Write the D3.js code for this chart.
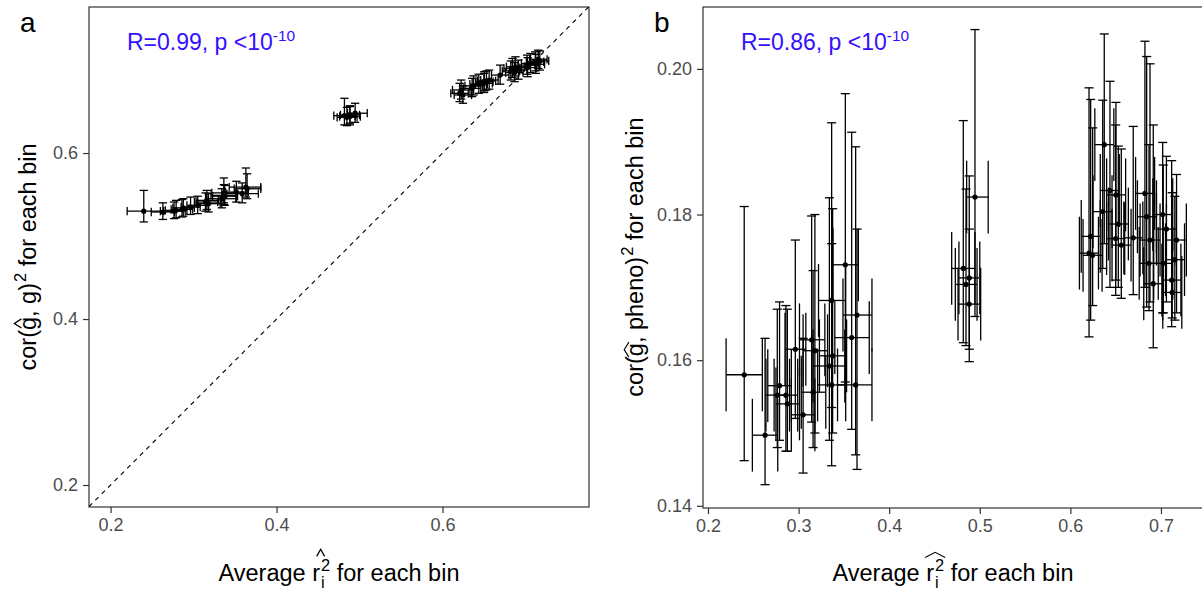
<!DOCTYPE html>
<html><head><meta charset="utf-8">
<script src="https://cdn.jsdelivr.net/npm/d3@7"></script>
<style>
html,body{margin:0;padding:0;overflow:hidden;background:#fff}
svg{display:block;font-family:"Liberation Sans",Arial,Helvetica,sans-serif}
svg text{white-space:pre}
</style>
</head><body>
<svg id="chart" width="1202" height="592"></svg>
<script>
// ---- data: one entry per bin ----
const binX   = [0.240,0.263,0.2765,0.279,0.286,0.2876,0.2964,0.305,0.3144,0.318,0.316,0.334,0.3365,0.3376,0.3365,0.3516,0.3645,0.3586,0.363,
                0.4947,0.4818,0.4884,0.4848,0.4884,
                0.6206,0.6224,0.6246,0.6357,0.6374,0.6437,0.6503,0.6500,0.6529,0.6562,0.6694,0.6823,0.6842,0.6868,0.6879,0.6915,0.7019,0.7025,0.7060,0.7118,0.7124,0.7153,0.7172];
const binXLo = [0.220,0.249,0.264,0.266,0.273,0.275,0.285,0.292,0.301,0.305,0.303,0.316,0.322,0.323,0.321,0.338,0.349,0.340,0.343,
                0.4855,0.469,0.477,0.473,0.476,
                0.610,0.612,0.614,0.625,0.627,0.633,0.640,0.640,0.642,0.646,0.659,0.672,0.674,0.676,0.677,0.681,0.691,0.692,0.695,0.701,0.702,0.705,0.706];
const binXHi = [0.260,0.277,0.290,0.292,0.299,0.301,0.308,0.318,0.329,0.332,0.330,0.351,0.352,0.353,0.352,0.366,0.381,0.378,0.381,
                0.5093,0.4947,0.500,0.497,0.501,
                0.631,0.633,0.635,0.646,0.648,0.654,0.661,0.660,0.664,0.667,0.680,0.693,0.695,0.697,0.699,0.702,0.713,0.713,0.717,0.722,0.723,0.726,0.728];

const corG   = [0.530,0.529,0.530,0.531,0.532,0.534,0.535,0.537,0.541,0.539,0.543,0.545,0.552,0.548,0.549,0.553,0.557,0.551,0.559,
                0.648,0.645,0.646,0.643,0.644,
                0.672,0.676,0.670,0.678,0.681,0.683,0.686,0.684,0.687,0.688,0.694,0.699,0.702,0.697,0.704,0.700,0.706,0.703,0.708,0.710,0.707,0.713,0.711];
const corGLo = [0.517,0.520,0.521,0.522,0.523,0.524,0.526,0.527,0.530,0.529,0.532,0.534,0.540,0.537,0.538,0.541,0.545,0.540,0.547,
                0.637,0.634,0.636,0.633,0.634,
                0.662,0.665,0.660,0.668,0.670,0.672,0.675,0.673,0.676,0.677,0.683,0.688,0.691,0.686,0.693,0.689,0.695,0.692,0.697,0.699,0.696,0.702,0.700];
const corGHi = [0.555,0.540,0.541,0.543,0.544,0.545,0.547,0.548,0.552,0.551,0.555,0.557,0.570,0.561,0.562,0.566,0.575,0.564,0.582,
                0.660,0.666,0.657,0.655,0.656,
                0.684,0.688,0.681,0.690,0.693,0.695,0.698,0.696,0.699,0.700,0.706,0.711,0.714,0.709,0.716,0.712,0.718,0.715,0.720,0.722,0.719,0.724,0.723];

const corPheno   = [0.1580,0.1497,0.1552,0.1565,0.1552,0.1540,0.1615,0.1525,0.1628,0.1613,0.1556,0.1592,0.1682,0.1606,0.1566,0.1731,0.1662,0.1631,0.1566,
                    0.1824,0.1726,0.1713,0.1704,0.1677,
                    0.1747,0.1770,0.1744,0.1804,0.1896,0.1833,0.1827,0.1767,0.1787,0.1758,0.1768,0.1829,0.1797,0.1733,0.1765,0.1705,0.1800,0.1733,0.1780,0.1710,0.1693,0.1738,0.1765];
const corPhenoLo = [0.1462,0.1429,0.1480,0.1490,0.1475,0.1475,0.1520,0.1445,0.1515,0.1500,0.1480,0.1490,0.1535,0.1500,0.1455,0.1570,0.1450,0.1505,0.1470,
                    0.1660,0.1624,0.1615,0.1620,0.1598,
                    0.1632,0.1655,0.1675,0.1726,0.1760,0.1700,0.1710,0.1689,0.1700,0.1685,0.1690,0.1700,0.1673,0.1668,0.1680,0.1617,0.1665,0.1665,0.1680,0.1646,0.1658,0.1655,0.1665];
const corPhenoHi = [0.1811,0.1630,0.1670,0.1680,0.1675,0.1670,0.1765,0.1630,0.1798,0.1800,0.1723,0.1823,0.1926,0.1808,0.1760,0.1966,0.1780,0.1913,0.1893,
                    0.2054,0.1929,0.1853,0.1835,0.1780,
                    0.1974,0.1958,0.1919,0.1957,0.2048,0.1983,0.1954,0.1923,0.1894,0.1890,0.1921,0.2038,0.2017,0.1896,0.2007,0.1923,0.1899,0.1868,0.1880,0.1874,0.1830,0.1825,0.1855];

const ticksA  = [0.2,0.4,0.6];
const ticksBX = [0.2,0.3,0.4,0.5,0.6,0.7];
const ticksBY = [0.14,0.16,0.18,0.20];
const annotA = "R=0.99, p <10", annotB = "R=0.86, p <10", annotSup = "-10";

// ---- layout ----
const svg = d3.select("#chart");
const FS_TICK = 18, FS_TITLE = 23.5, INK = "#000", GREY = "#333", TICKTXT = "#4d4d4d";

function panel(o) {
  const x = d3.scaleLinear().domain(o.xd).range([o.l, o.r]);
  const y = d3.scaleLinear().domain(o.yd).range([o.b, o.t]);
  const g = svg.append("g");
  const ax = g.append("g").attr("transform", `translate(0,${o.b})`)
    .call(d3.axisBottom(x).tickValues(o.xt).tickSize(6).tickPadding(5).tickFormat(d3.format(o.xf)));
  const ay = g.append("g").attr("transform", `translate(${o.l},0)`)
    .call(d3.axisLeft(y).tickValues(o.yt).tickSize(6).tickPadding(5).tickFormat(d3.format(o.yf)));
  [ax, ay].forEach(a => {
    a.select(".domain").remove();
    a.selectAll(".tick line").attr("stroke", GREY).attr("stroke-width", 1.2);
    a.selectAll(".tick text").attr("fill", TICKTXT).style("font-size", FS_TICK + "px").style("font-family", "inherit");
  });
  g.append("rect").attr("x", o.l).attr("y", o.t).attr("width", o.r - o.l).attr("height", o.b - o.t)
    .attr("fill", "none").attr("stroke", GREY).attr("stroke-width", 1.2);
  const clipId = "clip" + o.id;
  svg.append("clipPath").attr("id", clipId).append("rect")
    .attr("x", o.l).attr("y", o.t).attr("width", o.r - o.l).attr("height", o.b - o.t);
  const pg = g.append("g").attr("clip-path", `url(#${clipId})`);
  if (o.diag) {
    pg.append("line").attr("x1", x(o.xd[0])).attr("y1", y(o.xd[0])).attr("x2", x(o.xd[1])).attr("y2", y(o.xd[1]))
      .attr("stroke", INK).attr("stroke-width", 1.1).attr("stroke-dasharray", "4.5,4.5");
  }
  const idx = d3.range(binX.length);
  const eb = pg.append("g").attr("stroke", INK).attr("stroke-width", 1.3).attr("fill", "none");
  const cap = 0.005;
  idx.forEach(i => {
    const xv = binX[i], yv = o.yv[i];
    eb.append("line").attr("x1", x(xv)).attr("x2", x(xv)).attr("y1", y(o.ylo[i])).attr("y2", y(o.yhi[i]));
    [o.ylo[i], o.yhi[i]].forEach(v => eb.append("line").attr("x1", x(xv - cap)).attr("x2", x(xv + cap)).attr("y1", y(v)).attr("y2", y(v)));
    eb.append("line").attr("x1", x(binXLo[i])).attr("x2", x(binXHi[i])).attr("y1", y(yv)).attr("y2", y(yv));
    [binXLo[i], binXHi[i]].forEach(v => eb.append("line").attr("x1", x(v)).attr("x2", x(v)).attr("y1", y(yv - cap)).attr("y2", y(yv + cap)));
  });
  pg.append("g").selectAll("circle").data(idx).join("circle")
    .attr("cx", i => x(binX[i])).attr("cy", i => y(o.yv[i])).attr("r", 2.6).attr("fill", INK);
  const at = g.append("text").attr("x", o.l + 38).attr("y", 50).attr("fill", "#3311ff").style("font-size", "23px").text(o.annot);
  at.append("tspan").attr("dy", -9).style("font-size", "15.5px").text(annotSup);
  g.append("text").attr("x", o.letterX).attr("y", 32).style("font-size", "28px").attr("fill", INK).text(o.letter);
  return {x, y, g};
}

function drawHat(g, x0, x1, yb, h, wide) {
  const xm = (x0 + x1) / 2;
  g.append("path").attr("d", `M${x0},${yb} L${xm},${yb - h} L${x1},${yb}`)
    .attr("fill", "none").attr("stroke", INK).attr("stroke-width", wide ? 1.1 : 1.3);
}

function mathLabel(g, segs, fs, wide) {
  const inner = g.append("g");
  let x = 0;
  segs.forEach(s => {
    if (s.t !== undefined) {
      const el = inner.append("text").attr("x", x).attr("y", 0).style("font-size", fs + "px").attr("fill", INK).text(s.t);
      const w = el.node().getComputedTextLength();
      if (s.hat) {
        if (wide) drawHat(inner, x - 1, x + w + 1, -fs * 0.6, fs * 0.2, true);
        else drawHat(inner, x + w * 0.15, x + w * 0.85, -fs * 0.62, fs * 0.3, false);
      }
      x += w;
    } else {
      const x0 = x;
      const sp = inner.append("text").attr("x", x + 1).attr("y", -fs * 0.42).style("font-size", (fs * 0.7) + "px").attr("fill", INK).text(s.sup);
      let w = sp.node().getComputedTextLength();
      if (s.sub) {
        const sb = inner.append("text").attr("x", x + 1).attr("y", fs * 0.3).style("font-size", (fs * 0.7) + "px").attr("fill", INK).text(s.sub);
        w = Math.max(w, sb.node().getComputedTextLength());
      }
      if (s.hat) {
        const hx0 = x0 - s.hatBack;
        if (wide) drawHat(inner, hx0 - 1, x0 + w + 2, -fs * 1.0, fs * 0.22, true);
        else drawHat(inner, (hx0 + x0 + w) / 2 - fs * 0.17, (hx0 + x0 + w) / 2 + fs * 0.17, -fs * 1.05, fs * 0.3, false);
      }
      x += w + 1;
    }
  });
  inner.attr("transform", `translate(${-x / 2},0)`);
}

const A = panel({id: "a", l: 89, r: 589, t: 7, b: 507, xd: [0.174, 0.7765], yd: [0.1735, 0.776],
  xt: ticksA, yt: ticksA, xf: ".1f", yf: ".1f", yv: corG, ylo: corGLo, yhi: corGHi, diag: true,
  annot: annotA, letter: "a", letterX: 20});
const B = panel({id: "b", l: 703, r: 1204, t: 7, b: 508, xd: [0.1945, 0.7475], yd: [0.1397, 0.2085],
  xt: ticksBX, yt: ticksBY, xf: ".1f", yf: ".2f", yv: corPheno, ylo: corPhenoLo, yhi: corPhenoHi, diag: false,
  annot: annotB, letter: "b", letterX: 654});

function xTitle(cx, wide) {
  const g = svg.append("g").attr("transform", `translate(${cx},581)`);
  const tmp = svg.append("text").style("font-size", FS_TITLE + "px").text("r");
  const rw = tmp.node().getComputedTextLength(); tmp.remove();
  mathLabel(g, [{t: "Average r"}, {sup: "2", sub: "i", hat: true, hatBack: rw}, {t: " for each bin"}], FS_TITLE, wide);
}
xTitle(339, false);
xTitle(953, true);

function yTitle(bx, cy, word, wide) {
  const g = svg.append("g").attr("transform", `translate(${bx},${cy}) rotate(-90)`);
  mathLabel(g, [{t: "cor("}, {t: "g", hat: true}, {t: ", " + word + ")"}, {sup: "2"}, {t: " for each bin"}], FS_TITLE, wide);
}
yTitle(36, 257, "g", false);
yTitle(643, 257, "pheno", true);
</script>
</body></html>
